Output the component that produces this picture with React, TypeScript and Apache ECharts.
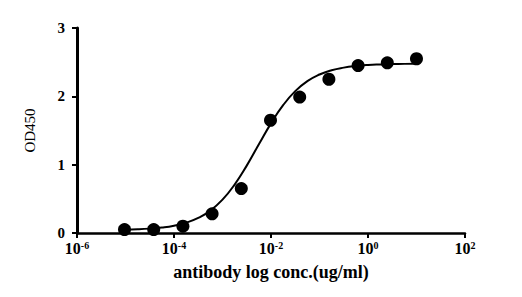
import React, { useEffect, useRef } from "react";
import * as echarts from "echarts";

// concentrations (ug/ml), 1:4 serial dilution
const concentrations = [
  0.0000095367, 0.000038147, 0.00015259, 0.00061035, 0.0024414, 0.0097656,
  0.039063, 0.15625, 0.625, 2.5, 10,
];
const od450 = [0.05, 0.05, 0.1, 0.28, 0.65, 1.65, 1.99, 2.25, 2.45, 2.49, 2.55];

// fitted curve (log10 conc, OD450)
const curveLogX = [
  -5, -4.75, -4.5, -4.25, -4, -3.75, -3.5, -3.25, -3, -2.75, -2.5, -2.25, -2,
  -1.75, -1.5, -1.25, -1, -0.75, -0.5, -0.25, 0, 0.25, 0.5, 0.75, 1,
];
const curveY = [
  0.049, 0.054, 0.064, 0.08, 0.107, 0.151, 0.22, 0.328, 0.488, 0.709, 0.986,
  1.298, 1.604, 1.87, 2.076, 2.222, 2.319, 2.382, 2.42, 2.444, 2.459, 2.467,
  2.472, 2.475, 2.477,
];

const xTickExponents = [-6, -4, -2, 0, 2];
const yTicks = [0, 1, 2, 3];

const FONT = "'Liberation Serif', 'Times New Roman', serif";

export default function App() {
  const ref = useRef<HTMLDivElement>(null);
  useEffect(() => {
    if (!ref.current) return;
    const chart = echarts.init(ref.current, undefined, { renderer: "svg" });
    chart.setOption({
      animation: false,
      backgroundColor: "#ffffff",
      grid: { left: 77, right: 57, top: 28, bottom: 64 },
      xAxis: {
        type: "value",
        min: xTickExponents[0],
        max: xTickExponents[xTickExponents.length - 1],
        interval: 2,
        name: "antibody log conc.(ug/ml)",
        nameLocation: "middle",
        nameGap: 30,
        nameTextStyle: {
          fontFamily: FONT,
          fontWeight: "bold",
          fontSize: 18,
          color: "#000",
        },
        axisLine: { lineStyle: { color: "#000", width: 2.5 } },
        axisTick: { length: 5, lineStyle: { color: "#000", width: 2 } },
        splitLine: { show: false },
        axisLabel: {
          margin: 7,
          fontFamily: FONT,
          fontWeight: "bold",
          fontSize: 16,
          color: "#000",
          formatter: (v: number) => `{b|10}{s|${v}}`,
          rich: {
            b: {
              fontFamily: FONT,
              fontWeight: "bold",
              fontSize: 16,
              color: "#000",
              lineHeight: 17,
            },
            s: {
              fontFamily: FONT,
              fontWeight: "bold",
              fontSize: 10,
              color: "#000",
              lineHeight: 10,
              verticalAlign: "top",
            },
          },
        },
      },
      yAxis: {
        type: "value",
        min: yTicks[0],
        max: yTicks[yTicks.length - 1],
        interval: 1,
        name: "OD450",
        nameLocation: "middle",
        nameRotate: 90,
        nameGap: 40,
        nameTextStyle: {
          fontFamily: FONT,
          fontSize: 15,
          color: "#000",
        },
        axisLine: {
          show: true,
          onZero: false,
          lineStyle: { color: "#000", width: 3 },
        },
        axisTick: { show: true, length: 5, lineStyle: { color: "#000", width: 2 } },
        splitLine: { show: false },
        axisLabel: {
          margin: 12,
          fontFamily: FONT,
          fontWeight: "bold",
          fontSize: 15,
          color: "#000",
        },
      },
      series: [
        {
          type: "line",
          data: curveLogX.map((x, i) => [x, curveY[i]]),
          smooth: true,
          showSymbol: false,
          lineStyle: { color: "#000", width: 2 },
          z: 2,
        },
        {
          type: "scatter",
          data: concentrations.map((c, i) => [Math.log10(c), od450[i]]),
          symbol: "circle",
          symbolSize: 13,
          itemStyle: { color: "#000", opacity: 1 },
          z: 3,
        },
      ],
    });
    return () => chart.dispose();
  }, []);
  return <div ref={ref} style={{ width: 522, height: 297, margin: -8 }} />;
}
